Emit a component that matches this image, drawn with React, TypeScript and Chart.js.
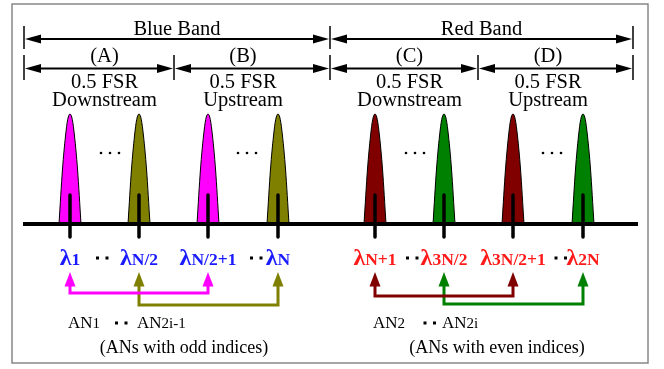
import React, { useEffect, useRef } from "react";
import { Chart, registerables } from "chart.js";

Chart.register(...registerables);

// ---- data ----
const channelPositions = [70, 139, 208, 278, 375, 444, 513, 583];
const channelSubscripts = ["1", "N/2", "N/2+1", "N", "N+1", "3N/2", "3N/2+1", "2N"];
const peakProfileOffsets = [-11, -7.5, -4.5, -2.3, 0, 2.3, 4.5, 7.5, 11];
const peakProfileHeights = [0, 0.5, 0.8, 0.95, 1, 0.95, 0.8, 0.5, 0];
const bandNames = ["Blue Band", "Red Band"];
const bandEdges = [24, 330, 633];
const subBandNames = ["(A)", "(B)", "(C)", "(D)"];
const subBandEdges = [24, 174, 330, 478, 633];
const subBandLine1 = ["0.5 FSR", "0.5 FSR", "0.5 FSR", "0.5 FSR"];
const subBandLine2 = ["Downstream", "Upstream", "Downstream", "Upstream"];
const baselineRange = [23, 638];
const connectionPairs = [[0, 2], [1, 3], [4, 6], [5, 7]];
const anSubscripts = ["1", "2i-1", "2", "2i"];
const anChannels = [0, 1, 4, 5];
const groupCaptions = ["(ANs with odd indices)", "(ANs with even indices)"];

// ---- styles ----
const peakColors = ["#ff00ff", "#808000", "#ff00ff", "#808000", "#800000", "#008000", "#800000", "#008000"];
const connectorColors = ["#ff00ff", "#808000", "#800000", "#008000"];
const connectorLevels = [-0.627, -0.736, -0.655, -0.727];
const labelColors = ["#1a1aff", "#ff1a1a"];
const SERIF = '"Liberation Serif", "Times New Roman", serif';
const PX_PER_UNIT = 110;
const Y_MAX = 224 / PX_PER_UNIT;
const Y_MIN = Y_MAX - 369 / PX_PER_UNIT;
const STEM_TOP = 0.264;
const STEM_BOTTOM = -0.118;
const ARROW_BASE = -0.5636;
const ARROW_TIP = -0.436;

function buildDatasets() {
  const ds: any[] = [];
  channelPositions.forEach((c, i) => {
    ds.push({
      data: peakProfileOffsets.map((dx, k) => ({ x: c + dx, y: peakProfileHeights[k] })),
      backgroundColor: peakColors[i],
      borderColor: "#000",
      borderWidth: 1,
      pointRadius: 0,
      fill: "origin",
      cubicInterpolationMode: "monotone",
      order: 3,
    });
  });
  ds.push({
    data: [{ x: baselineRange[0], y: 0 }, { x: baselineRange[1], y: 0 }],
    borderColor: "#000",
    borderWidth: 4,
    pointRadius: 0,
    fill: false,
    order: 2,
  });
  const stem: any[] = [];
  channelPositions.forEach((c) => {
    stem.push({ x: c, y: STEM_TOP }, { x: c, y: STEM_BOTTOM }, { x: c, y: null });
  });
  ds.push({
    data: stem,
    borderColor: "#000",
    borderWidth: 3.5,
    borderCapStyle: "round",
    pointRadius: 0,
    fill: false,
    spanGaps: false,
    order: 1,
  });
  connectionPairs.forEach(([a, b], i) => {
    const lv = connectorLevels[i];
    ds.push({
      data: [
        { x: channelPositions[a], y: ARROW_BASE },
        { x: channelPositions[a], y: lv },
        { x: channelPositions[b], y: lv },
        { x: channelPositions[b], y: ARROW_BASE },
      ],
      borderColor: connectorColors[i],
      borderWidth: 3,
      pointRadius: 0,
      fill: false,
      tension: 0,
      order: 0,
    });
  });
  return ds;
}

const diagramPlugin = {
  id: "diagram",
  beforeDraw(chart: any) {
    const ctx = chart.ctx;
    ctx.save();
    ctx.fillStyle = "#fff";
    ctx.fillRect(0, 0, chart.width, chart.height);
    ctx.strokeStyle = "#888";
    ctx.lineWidth = 1.5;
    ctx.strokeRect(12, 4, 636, 359);
    ctx.restore();
  },
  afterDatasetsDraw(chart: any) {
    const ctx = chart.ctx;
    const xs = chart.scales.x;
    const ys = chart.scales.y;
    const px = (v: number) => xs.getPixelForValue(v);
    const py = (v: number) => ys.getPixelForValue(v);
    ctx.save();

    // dimension arrows
    const dimArrow = (x1: number, x2: number, y: number) => {
      ctx.strokeStyle = "#000";
      ctx.fillStyle = "#000";
      ctx.lineWidth = 2;
      ctx.beginPath();
      ctx.moveTo(x1 + 8, y);
      ctx.lineTo(x2 - 8, y);
      ctx.stroke();
      const head = (tip: number, dir: number) => {
        ctx.beginPath();
        ctx.moveTo(tip, y);
        ctx.lineTo(tip + dir * 16, y - 4.5);
        ctx.lineTo(tip + dir * 16, y + 4.5);
        ctx.closePath();
        ctx.fill();
      };
      head(x1 + 1, 1);
      head(x2 - 1, -1);
    };
    const bar = (x: number, y1: number, y2: number) => {
      ctx.strokeStyle = "#000";
      ctx.lineWidth = 1.5;
      ctx.beginPath();
      ctx.moveTo(x, y1);
      ctx.lineTo(x, y2);
      ctx.stroke();
    };
    for (let i = 0; i < bandNames.length; i++) {
      dimArrow(px(bandEdges[i]), px(bandEdges[i + 1]), 39);
    }
    bandEdges.forEach((e) => bar(px(e), 26, 49));
    for (let i = 0; i < subBandNames.length; i++) {
      dimArrow(px(subBandEdges[i]), px(subBandEdges[i + 1]), 68.5);
    }
    subBandEdges.forEach((e) => bar(px(e), 55, 80));

    // top texts
    ctx.fillStyle = "#000";
    ctx.textAlign = "center";
    ctx.textBaseline = "alphabetic";
    ctx.font = `20.5px ${SERIF}`;
    bandNames.forEach((n, i) => {
      ctx.fillText(n, (px(bandEdges[i]) + px(bandEdges[i + 1])) / 2, 34.5);
    });
    subBandNames.forEach((n, i) => {
      const cx = (px(channelPositions[2 * i]) + px(channelPositions[2 * i + 1])) / 2;
      ctx.fillText(n, cx, 62);
      ctx.fillText(subBandLine1[i], cx, 88);
      ctx.fillText(subBandLine2[i], cx, 105.5);
    });

    // dots between peaks
    ctx.fillStyle = "#000";
    for (let g = 0; g < 4; g++) {
      const cx = (px(channelPositions[2 * g]) + px(channelPositions[2 * g + 1])) / 2 + (g % 2 === 0 ? 5.5 : 4);
      for (let k = -1; k <= 1; k++) {
        ctx.beginPath();
        ctx.arc(cx + k * 9, 153, 1.3, 0, Math.PI * 2);
        ctx.fill();
      }
    }

    // lambda labels
    const lamY = 265;
    channelPositions.forEach((c, i) => {
      const color = labelColors[i < 4 ? 0 : 1];
      ctx.font = `bold 24px ${SERIF}`;
      const wl = ctx.measureText("λ").width;
      ctx.font = `bold 17.5px ${SERIF}`;
      const ws = ctx.measureText(channelSubscripts[i]).width;
      const start = px(c) - (wl + ws) / 2;
      ctx.fillStyle = color;
      ctx.textAlign = "left";
      ctx.font = `bold 24px ${SERIF}`;
      ctx.fillText("λ", start, lamY);
      ctx.font = `bold 17.5px ${SERIF}`;
      ctx.fillText(channelSubscripts[i], start + wl, lamY);
    });
    const twoDots = (cx: number, y: number) => {
      ctx.fillStyle = "#000";
      ctx.fillRect(cx - 6.5, y - 1.5, 3, 3);
      ctx.fillRect(cx + 3, y - 1.5, 3, 3);
    };
    [102.5, 256.5, 412.5, 561].forEach((x) => twoDots(x, 258));

    // connector arrowheads
    connectionPairs.forEach(([a, b], i) => {
      ctx.fillStyle = connectorColors[i];
      [a, b].forEach((ch) => {
        const x = px(channelPositions[ch]);
        ctx.beginPath();
        ctx.moveTo(x, py(ARROW_TIP));
        ctx.lineTo(x - 5.5, py(ARROW_BASE) + 0.5);
        ctx.lineTo(x + 5.5, py(ARROW_BASE) + 0.5);
        ctx.closePath();
        ctx.fill();
      });
    });

    // AN labels
    ctx.fillStyle = "#000";
    ctx.textAlign = "left";
    anSubscripts.forEach((s, i) => {
      const x = px(channelPositions[anChannels[i]]) - 2;
      ctx.font = `17px ${SERIF}`;
      const w = ctx.measureText("AN").width;
      ctx.fillText("AN", x, 328);
      ctx.font = `15px ${SERIF}`;
      ctx.fillText(s, x + w, 328);
    });
    [121.5, 430].forEach((x) => twoDots(x, 323));

    // captions
    ctx.font = `18px ${SERIF}`;
    ctx.textAlign = "center";
    ctx.fillText(groupCaptions[0], 184, 353);
    ctx.fillText(groupCaptions[1], 497, 353);

    ctx.restore();
  },
};

export default function App() {
  const ref = useRef<HTMLCanvasElement | null>(null);
  useEffect(() => {
    if (!ref.current) return;
    const chart = new Chart(ref.current, {
      type: "line",
      data: { datasets: buildDatasets() },
      options: {
        responsive: false,
        animation: false,
        events: [],
        layout: { padding: 0 },
        plugins: { legend: { display: false }, tooltip: { enabled: false } },
        scales: {
          x: { type: "linear", min: 0, max: 664, display: false },
          y: { type: "linear", min: Y_MIN, max: Y_MAX, display: false },
        },
      } as any,
      plugins: [diagramPlugin],
    });
    return () => chart.destroy();
  }, []);
  return (
    <div style={{ position: "fixed", left: 0, top: 0, width: 664, height: 369, background: "#fff" }}>
      <canvas ref={ref} width={664} height={369} style={{ display: "block" }} />
    </div>
  );
}
